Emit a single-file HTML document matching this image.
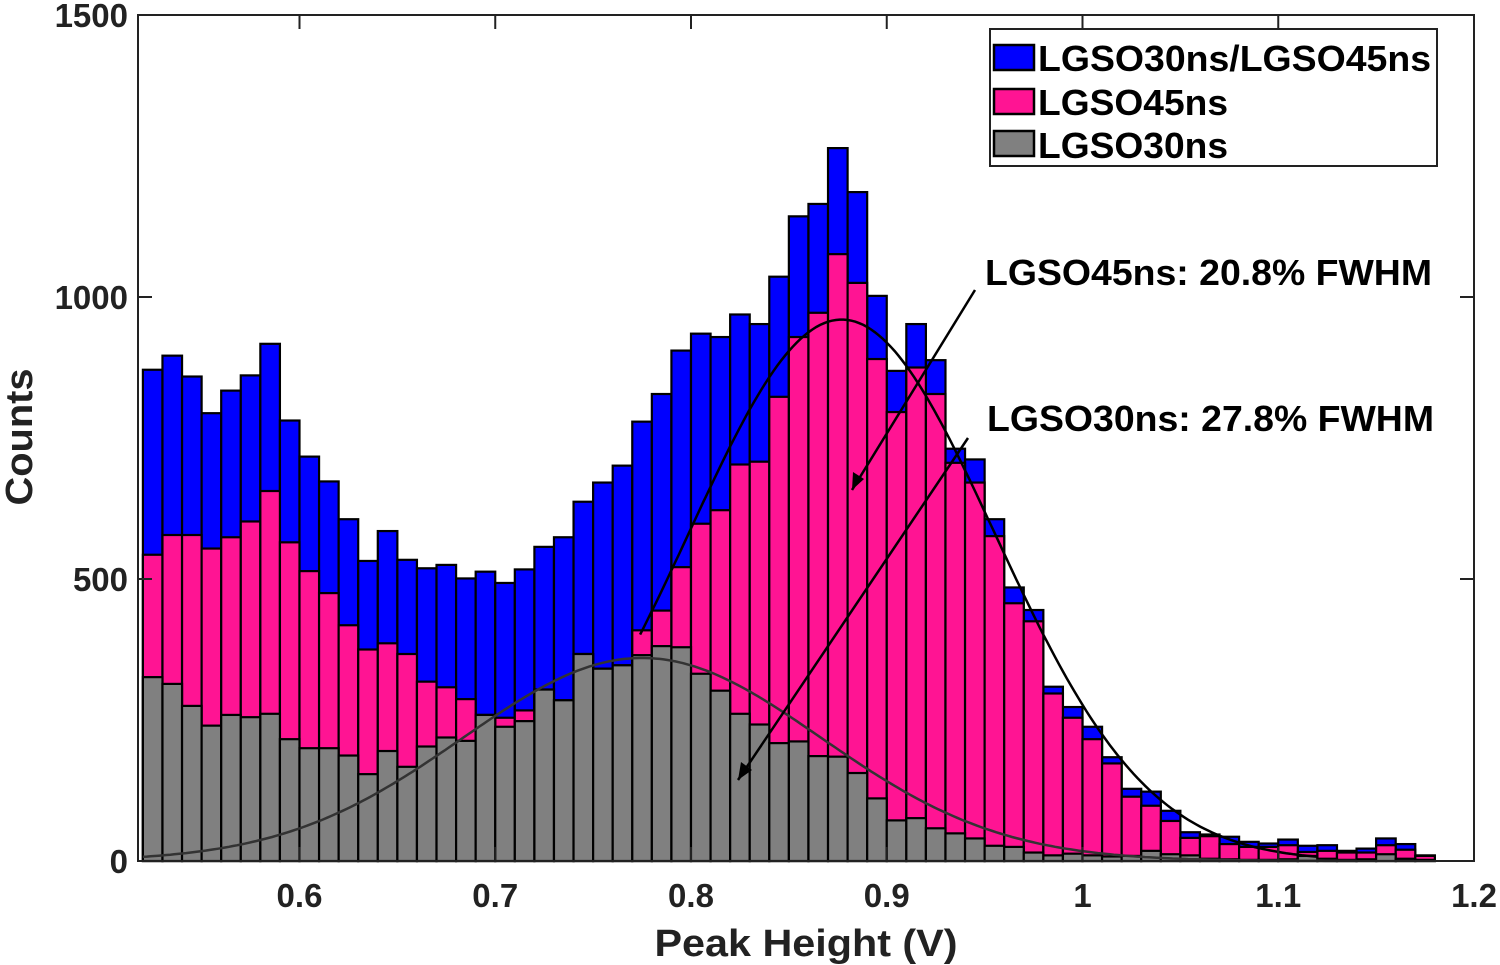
<!DOCTYPE html>
<html><head><meta charset="utf-8"><style>
html,body{margin:0;padding:0;background:#fff;}
svg{display:block;font-family:"Liberation Sans",Arial,sans-serif;font-weight:bold;}
</style></head><body>
<svg id="chart" width="1500" height="965" viewBox="0 0 1500 965" xmlns="http://www.w3.org/2000/svg">
<g id="bars"></g>
<g id="curves"></g>
<g id="axes"></g>
<g>
<text x="985" y="285" font-size="36" textLength="447" lengthAdjust="spacingAndGlyphs">LGSO45ns: 20.8% FWHM</text>
<text x="987" y="431" font-size="36" textLength="447" lengthAdjust="spacingAndGlyphs">LGSO30ns: 27.8% FWHM</text>
<line x1="975" y1="290" x2="852" y2="490" stroke="#000" stroke-width="2.5"/>
<polygon points="852,490 853,472 864,479" fill="#000"/>
<line x1="968" y1="438" x2="738" y2="780" stroke="#000" stroke-width="2.5"/>
<polygon points="738,780 741,762 752,770" fill="#000"/>
</g>
<g>
<rect x="990" y="29" width="447" height="137" fill="#fff" stroke="#222" stroke-width="2"/>
<rect x="994" y="45" width="40" height="25" fill="#0000ff" stroke="#000" stroke-width="2.5"/>
<text x="1038" y="71" font-size="36" textLength="393" lengthAdjust="spacingAndGlyphs">LGSO30ns/LGSO45ns</text>
<rect x="994" y="89" width="40" height="25" fill="#ff1493" stroke="#000" stroke-width="2.5"/>
<text x="1038" y="115" font-size="36" textLength="190" lengthAdjust="spacingAndGlyphs">LGSO45ns</text>
<rect x="994" y="131" width="40" height="25" fill="#808080" stroke="#000" stroke-width="2.5"/>
<text x="1038" y="158" font-size="36" textLength="190" lengthAdjust="spacingAndGlyphs">LGSO30ns</text>
</g>
</svg>
<script>
const binStart = 0.52;
const binWidth = 0.01;
const blueCounts = [871,896,859,794,834,861,917,781,717,673,606,532,585,534,519,525,501,513,493,517,557,574,637,671,701,779,828,905,935,929,969,952,1036,1143,1165,1264,1186,1002,869,952,888,731,712,606,485,445,309,273,238,184,128,123,89,51,47,43,34,31,38,27,28,18,22,40,30,10];
const pinkCounts = [543,578,578,554,574,602,656,565,514,475,418,375,386,367,318,308,287,259,254,267,304,285,367,341,347,409,444,521,598,622,703,708,823,929,972,1076,1025,890,796,875,828,706,671,576,457,425,297,254,216,173,114,98,71,41,44,30,25,25,28,16,18,15,15,28,20,9];
const grayCounts = [326,314,275,240,259,255,261,216,200,200,187,154,195,167,203,219,213,259,238,248,304,285,367,341,347,365,381,379,332,302,261,242,209,212,186,185,156,111,72,76,58,49,40,27,25,15,10,13,10,8,9,18,12,10,4,3,2,2,3,9,4,2,3,12,4,2];
const fit45 = [960, 0.877, 0.078];
const fit30 = [360, 0.775, 0.0915];
const xTicks = [0.6,0.7,0.8,0.9,1.0,1.1,1.2];
const xTickLabels = ["0.6","0.7","0.8","0.9","1","1.1","1.2"];
const yTicks = [0,500,1000,1500];
const yTickLabels = ["0","500","1000","1500"];

const NS="http://www.w3.org/2000/svg";
const L=138,R=1474,T=15,B=861;
const xMin=0.5175,xMax=1.2,yMax=1500;
function xs(v){return L+(v-xMin)/(xMax-xMin)*(R-L);}
function ys(v){return B-v/yMax*(B-T);}
function mk(tag,attrs,parent){const e=document.createElementNS(NS,tag);for(const k in attrs)e.setAttribute(k,attrs[k]);parent.appendChild(e);return e;}
const bars=document.getElementById('bars');
function drawSeries(arr,color,name){
  arr.forEach((v,i)=>{
    const x0=xs(binStart+i*binWidth),x1=xs(binStart+(i+1)*binWidth);
    const r=mk('rect',{x:x0,y:ys(v),width:x1-x0,height:ys(0)-ys(v),fill:color,stroke:'#000','stroke-width':2.2},bars);
    
    
  });
}
drawSeries(blueCounts,'#0000ff','ratio');
drawSeries(pinkCounts,'#ff1493','lgso45');
drawSeries(grayCounts,'#808080','lgso30');
const curves=document.getElementById('curves');
function gauss(p,x){return p[0]*Math.exp(-Math.pow(x-p[1],2)/(2*p[2]*p[2]));}
function curve(p,a,b,color,name){
  let d='';
  for(let x=a;x<=b+1e-9;x+=0.002){d+=(d?'L':'M')+xs(x).toFixed(1)+','+ys(gauss(p,x)).toFixed(1);}
  const e=mk('path',{d:d,fill:'none',stroke:color,'stroke-width':2.5},curves);
  
  
}
curve(fit45,0.774,1.12,'#000','fit-curve-lgso45');
curve(fit30,0.52,1.14,'#333','fit-curve-lgso30');
const axes=document.getElementById('axes');
const frame=mk('rect',{x:L,y:T,width:R-L,height:B-T,fill:'none',stroke:'#222','stroke-width':2},axes);


xTicks.forEach((v,i)=>{
  const x=xs(v);
  mk('line',{x1:x,y1:B,x2:x,y2:B-14,stroke:'#222','stroke-width':2},axes);
  mk('line',{x1:x,y1:T,x2:x,y2:T+14,stroke:'#222','stroke-width':2},axes);
  const t=mk('text',{x:x,y:907,'font-size':33,'text-anchor':'middle',fill:'#222'},axes);
  t.textContent=xTickLabels[i];
  
  
});
yTicks.forEach((v,i)=>{
  const y=ys(v);
  mk('line',{x1:L,y1:y,x2:L+14,y2:y,stroke:'#222','stroke-width':2},axes);
  mk('line',{x1:R,y1:y,x2:R-14,y2:y,stroke:'#222','stroke-width':2},axes);
  const t=mk('text',{x:128,y:y+12,'font-size':33,'text-anchor':'end',fill:'#222'},axes);
  t.textContent=yTickLabels[i];
  
  
});
const xt=mk('text',{x:806,y:956,'font-size':38,'text-anchor':'middle',fill:'#222',textLength:303,lengthAdjust:'spacingAndGlyphs'},axes);
xt.textContent='Peak Height (V)';


const yt=mk('text',{x:0,y:0,'font-size':38,'text-anchor':'middle',fill:'#222',textLength:137,lengthAdjust:'spacingAndGlyphs',transform:'translate(32,437) rotate(-90)'},axes);
yt.textContent='Counts';


</script>
</body></html>
